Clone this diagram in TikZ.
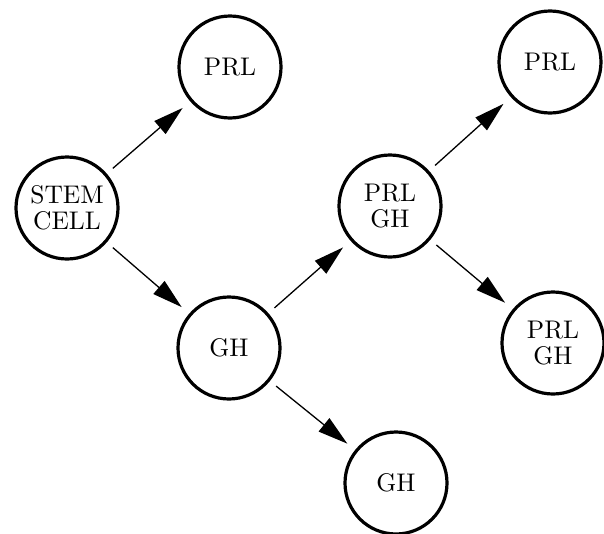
\documentclass[tikz,border=0pt]{standalone}
\usepackage{tikz}
\usepackage{fontspec}
\setmainfont{lmroman10-regular}[Extension=.otf]
\usetikzlibrary{arrows.meta}

\tikzset{cell/.style={draw=black, circle, line width=3.2pt, minimum size=102pt, inner sep=0pt,
  align=center, font=\fontsize{25.5}{26.5}\selectfont},
  differ/.style={-{Triangle[length=30pt,width=17pt]}, line width=1.3pt, shorten <=8pt, shorten >=10pt}}

\begin{document}
\begin{tikzpicture}[x=1pt, y=-1pt]
\useasboundingbox (0,0) rectangle (604,533);

\node[cell] (stem) at (67,208) {STEM\\CELL};
\node[cell] (prlA) at (230,67) {PRL};
\node[cell] (gh) at (229,348) {GH};
\node[cell] (prlgh) at (390,206) {PRL\\GH};
\node[cell] (prlB) at (550,62) {PRL};
\node[cell] (prlghB) at (553,343) {PRL\\GH};
\node[cell] (ghB) at (396,483) {GH};

\draw[differ] (stem) -- (prlA);
\draw[differ] (stem) -- (gh);
\draw[differ] (gh) -- (prlgh);
\draw[differ] (gh) -- (ghB);
\draw[differ] (prlgh) -- (prlB);
\draw[differ] (prlgh) -- (prlghB);
\end{tikzpicture}
\end{document}
